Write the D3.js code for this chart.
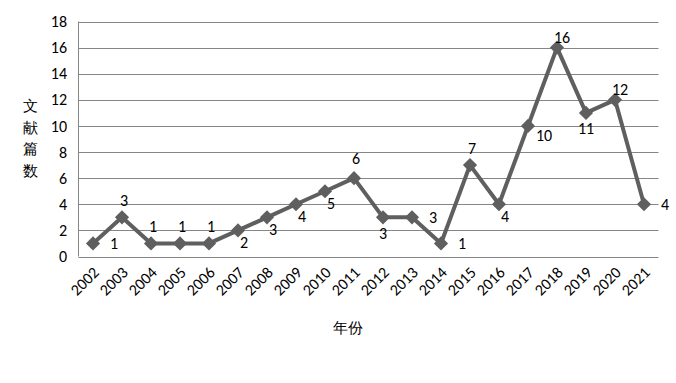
<!DOCTYPE html>
<html><head><meta charset="utf-8">
<script src="https://cdn.jsdelivr.net/npm/d3@7/dist/d3.min.js"></script>
<style>
body{margin:0;background:#fff;}
text{font-family:Carlito,Lato,"Liberation Sans",sans-serif;}
</style></head>
<body><svg id="c" width="676" height="383"></svg>
<script>
const years = ["2002","2003","2004","2005","2006","2007","2008","2009","2010","2011","2012","2013","2014","2015","2016","2017","2018","2019","2020","2021"];
const counts = [1,3,1,1,1,2,3,4,5,6,3,3,1,7,4,10,16,11,12,4];
const yTicks = [0,2,4,6,8,10,12,14,16,18];
const labelPos = ["right","above","above","above","above","belowRight","belowRight","belowRight","belowRight","aboveFar","below","right","right","above","belowRight","farBelowRight","aboveClose","below","aboveClose","right"];
const yTitle = ["文","献","篇","数"];
const xTitle = "年份";

const svg = d3.select("#c");
const L=78.5, R=658.5, T=21.5, B=256.5;
const x = d3.scaleBand().domain(years).range([L,R]);
const y = d3.scaleLinear().domain([0,18]).range([B,T]);
const cx = d => x(d)+x.bandwidth()/2;

// gridlines
svg.append("g").selectAll("line").data(yTicks).join("line")
  .attr("x1",L).attr("x2",R).attr("y1",d=>Math.round(y(d))+0.5).attr("y2",d=>Math.round(y(d))+0.5)
  .attr("stroke","#868686").attr("stroke-width",1);
// left axis line
svg.append("line").attr("x1",L).attr("x2",L).attr("y1",T).attr("y2",B).attr("stroke","#868686");

// y ticks
svg.append("g").selectAll("text").data(yTicks).join("text")
  .attr("x",67).attr("y",d=>y(d)).attr("dy","0.35em").attr("text-anchor","end")
  .attr("font-size",16).attr("fill","#000").text(d=>d);

// x ticks rotated
svg.append("g").selectAll("text").data(years).join("text")
  .attr("transform",d=>`translate(${cx(d)+3},${B+13}) rotate(-45)`)
  .attr("text-anchor","end").attr("dy","0.35em")
  .attr("font-size",16).attr("fill","#000").text(d=>d);

// titles
svg.append("g").selectAll("text").data(yTitle).join("text")
  .attr("x",30).attr("y",(d,i)=>106+i*21.5).attr("dy","0.35em").attr("text-anchor","middle")
  .attr("font-family","'Noto Sans CJK SC'").attr("font-size",15).attr("fill","#000").text(d=>d);
svg.append("text").attr("x",348).attr("y",328).attr("dy","0.35em").attr("text-anchor","middle")
  .attr("font-family","'Noto Sans CJK SC'").attr("font-size",15).attr("fill","#000").text(xTitle);

// line
const pts = years.map((yr,i)=>[cx(yr), y(counts[i])]);
svg.append("path").attr("d",d3.line()(pts)).attr("fill","none")
  .attr("stroke","#5f5f5f").attr("stroke-width",4).attr("stroke-linejoin","round");
// markers (diamonds)
svg.append("g").selectAll("path").data(pts).join("path")
  .attr("d",d3.symbol(d3.symbolSquare, 100)())
  .attr("transform",d=>`translate(${d[0]},${d[1]}) rotate(45)`)
  .attr("fill","#5f5f5f");

// data labels
const off = {right:[21,0],above:[2,-17],aboveFar:[2,-20],aboveClose:[5,-10],below:[0,16],belowRight:[6,12],farBelowRight:[16,9]};
svg.append("g").selectAll("text").data(pts).join("text")
  .attr("x",(d,i)=>d[0]+off[labelPos[i]][0]).attr("y",(d,i)=>d[1]+off[labelPos[i]][1])
  .attr("dy","0.35em").attr("text-anchor","middle").attr("font-size",16).attr("fill","#000")
  .text((d,i)=>counts[i]);
</script></body></html>
